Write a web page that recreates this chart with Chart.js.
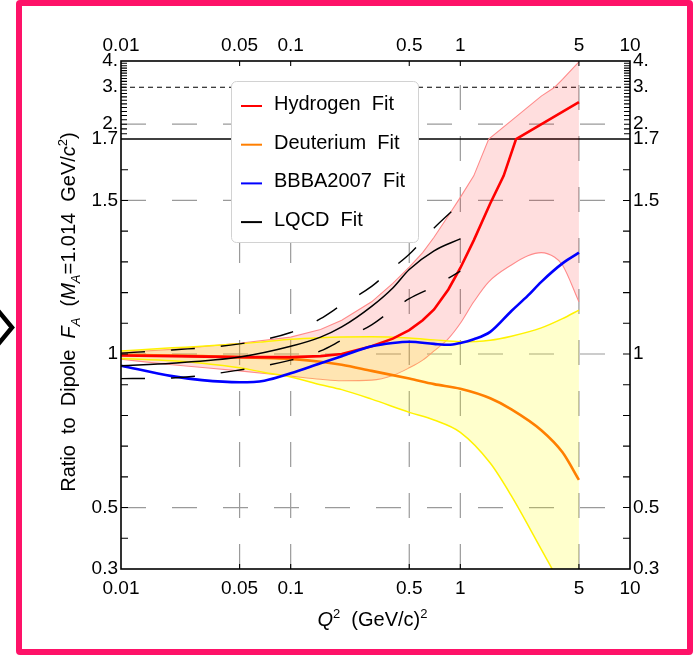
<!DOCTYPE html>
<html>
<head>
<meta charset="utf-8">
<title>Axial form factor ratio to dipole</title>
<script src="https://cdn.jsdelivr.net/npm/chart.js@4.4.1/dist/chart.umd.min.js"></script>
<style>
  html, body { margin: 0; padding: 0; background: #fff; }
  #page { position: relative; width: 693px; height: 656px; overflow: hidden; }
  #frame { position: absolute; left: 16px; top: 0; width: 677px; height: 655px; box-sizing: border-box;
           border: 6.5px solid #fe1268; border-radius: 4px; }
  #chev { position: absolute; left: 0; top: 300px; }
  #c { position: absolute; left: 0; top: 0; }
</style>
</head>
<body>
<div id="page">
  <div id="frame"></div>
  <svg id="chev" width="22" height="56" viewBox="0 0 22 56">
    <polyline points="-3,9.5 12,27.5 -3,45.5" fill="none" stroke="#000" stroke-width="4.5"/>
  </svg>
  <canvas id="c" width="693" height="656"></canvas>
</div>
<script>
// ---------- axis ticks ----------
const xTickValues = [0.01, 0.05, 0.1, 0.5, 1, 5, 10];
const xTickLabels = ['0.01', '0.05', '0.1', '0.5', '1', '5', '10'];
const yTickValues = [0.3, 0.5, 1, 1.5, 1.7, 2, 3, 4];
const yTickLabels = ['0.3', '0.5', '1', '1.5', '1.7', '2.', '3.', '4.'];
const xGridValues = [0.05, 0.1, 0.5, 1, 5];
const yGridValues = [0.5, 1, 1.5, 2];
const yBreakValue = 1.7;   // the y axis is linear below this value and logarithmic above
const yDashedRef = 3;

// ---------- Hydrogen fit and its error band ----------
const hydrogenQ2  = [0.01, 0.02, 0.05, 0.1, 0.15, 0.2, 0.3, 0.4, 0.5, 0.6, 0.7, 0.85, 1, 1.2, 1.5, 1.8, 2.13, 5];
const hydrogenFit = [0.995, 0.993, 0.99, 0.99, 0.993, 1.0, 1.025, 1.05, 1.078, 1.11, 1.145, 1.21, 1.28, 1.37, 1.49, 1.58, 1.70, 2.55];

const hydrogenBandQ2 = [0.01, 0.02, 0.05, 0.1, 0.15, 0.2, 0.3, 0.4, 0.5, 0.6, 0.7, 0.85, 1, 1.2, 1.47, 2, 2.5, 3, 3.6, 4, 5];
const hydrogenUpper  = [1.005, 1.015, 1.035, 1.055, 1.08, 1.11, 1.17, 1.23, 1.283, 1.33, 1.38, 1.45, 1.51, 1.58, 1.70, 2.08, 2.41, 2.72, 3.0, 3.27, 3.96];
const hydrogenLower  = [0.983, 0.965, 0.945, 0.928, 0.918, 0.913, 0.915, 0.93, 0.955, 0.98, 1.01, 1.05, 1.1, 1.17, 1.235, 1.29, 1.32, 1.33, 1.315, 1.29, 1.17];

// ---------- Deuterium fit and its error band ----------
const deuteriumQ2    = [0.01, 0.02, 0.03, 0.05, 0.07, 0.1, 0.15, 0.2, 0.3, 0.5, 0.7, 1, 1.5, 2, 3, 4, 5];
const deuteriumFit   = [0.997, 0.995, 0.993, 0.99, 0.987, 0.984, 0.975, 0.965, 0.945, 0.92, 0.902, 0.887, 0.856, 0.82, 0.752, 0.68, 0.59];
const deuteriumUpper = [1.01, 1.02, 1.025, 1.033, 1.04, 1.048, 1.053, 1.055, 1.056, 1.052, 1.046, 1.04, 1.045, 1.058, 1.085, 1.115, 1.143];
const deuteriumLower = [0.985, 0.978, 0.97, 0.955, 0.94, 0.925, 0.9, 0.884, 0.853, 0.81, 0.785, 0.745, 0.645, 0.538, 0.364, 0.24, 0.15];

// ---------- BBBA2007 parametrisation ----------
const bbbaQ2  = [0.01, 0.02, 0.03, 0.05, 0.07, 0.1, 0.15, 0.2, 0.3, 0.4, 0.5, 0.7, 0.85, 1, 1.2, 1.5, 2, 2.5, 3, 4, 5];
const bbbaFit = [0.962, 0.928, 0.915, 0.908, 0.913, 0.937, 0.97, 0.993, 1.025, 1.036, 1.04, 1.033, 1.03, 1.036, 1.048, 1.072, 1.14, 1.19, 1.235, 1.295, 1.33];

// ---------- lattice QCD fit with its uncertainty ----------
const lqcdQ2    = [0.01, 0.02, 0.05, 0.1, 0.15, 0.2, 0.3, 0.4, 0.5, 0.7, 1];
const lqcdFit   = [0.962, 0.97, 0.99, 1.025, 1.055, 1.088, 1.155, 1.215, 1.275, 1.336, 1.375];
const lqcdUpper = [1.003, 1.013, 1.033, 1.07, 1.115, 1.16, 1.22, 1.28, 1.325, 1.41, 1.49];
const lqcdLower = [0.92, 0.922, 0.948, 0.98, 1.01, 1.045, 1.095, 1.145, 1.18, 1.22, 1.27];

const legendOrder = ['Hydrogen Fit', 'Deuterium Fit', 'BBBA2007 Fit', 'LQCD Fit'];

const FONT = '"Liberation Sans", Arial, Helvetica, sans-serif';

// ---------- y scale: linear up to the break, logarithmic above ----------
const LIN_PX = 307.1;   // relative length of one unit in the linear part
const LOG_PX = 209.9;   // relative length of one decade in the log part
function warpY(v) {
  return v <= yBreakValue ? v * LIN_PX
                          : yBreakValue * LIN_PX + LOG_PX * Math.log10(v / yBreakValue);
}
function unwarpY(w) {
  const b = yBreakValue * LIN_PX;
  return w <= b ? w / LIN_PX : yBreakValue * Math.pow(10, (w - b) / LOG_PX);
}
class BrokenLinLogScale extends Chart.LinearScale {
  static id = 'brokenLinLog';
  static defaults = Chart.LinearScale.defaults;
  getPixelForValue(value) {
    const a = warpY(this.min), b = warpY(this.max);
    return this.getPixelForDecimal((warpY(value) - a) / (b - a));
  }
  getValueForPixel(pixel) {
    const a = warpY(this.min), b = warpY(this.max);
    return unwarpY(a + this.getDecimalForPixel(pixel) * (b - a));
  }
}
Chart.register(BrokenLinLogScale);

const pts = (xs, ys) => xs.map((x, i) => ({ x, y: ys[i] }));
const findLabel = (vals, labels, v) => {
  const i = vals.findIndex(t => Math.abs(t - v) < 1e-9 * Math.max(1, t));
  return i >= 0 ? labels[i] : '';
};

// ---------- rich text (italics, sub/superscripts, wide word gaps) ----------
function drawRich(ctx, parts, x, baseY, size, align) {
  const gap = 5.5;
  const runs = [];
  let total = 0;
  parts.forEach(p => {
    const small = p.sub || p.sup;
    const font = `${p.it ? 'italic ' : ''}${small ? Math.round(size * 0.65) : size}px ${FONT}`;
    ctx.font = font;
    p.t.split(/( )/).forEach(tok => {
      if (!tok) return;
      const w = tok === ' ' ? ctx.measureText(' ').width + gap : ctx.measureText(tok).width;
      runs.push({ tok, font, w, dy: p.sub ? size * 0.27 : p.sup ? -size * 0.42 : 0 });
      total += w;
    });
  });
  let xx = align === 'left' ? x : x - total / 2;
  ctx.textAlign = 'left';
  ctx.textBaseline = 'alphabetic';
  runs.forEach(r => {
    if (r.tok !== ' ') { ctx.font = r.font; ctx.fillText(r.tok, xx, baseY + r.dy); }
    xx += r.w;
  });
}

// ---------- decorations: grid, break lines, frame, inward ticks, legend, titles ----------
const decor = {
  id: 'decor',
  beforeDatasetsDraw(chart) {
    const { ctx, chartArea: a, scales } = chart;
    const x = scales.x, y = scales.y;
    ctx.save();
    ctx.beginPath();
    ctx.rect(a.left, a.top, a.right - a.left, a.bottom - a.top);
    ctx.clip();
    ctx.strokeStyle = '#9a9a9a';
    ctx.lineWidth = 1.2;
    ctx.setLineDash([25, 26]);
    xGridValues.forEach(v => {
      const px = x.getPixelForValue(v);
      ctx.beginPath(); ctx.moveTo(px, a.bottom); ctx.lineTo(px, a.top); ctx.stroke();
    });
    yGridValues.forEach(v => {
      const py = y.getPixelForValue(v);
      ctx.beginPath(); ctx.moveTo(a.left, py); ctx.lineTo(a.right, py); ctx.stroke();
    });
    ctx.strokeStyle = '#000';
    ctx.setLineDash([]);
    ctx.lineWidth = 1.6;
    let py = y.getPixelForValue(yBreakValue);
    ctx.beginPath(); ctx.moveTo(a.left, py); ctx.lineTo(a.right, py); ctx.stroke();
    ctx.setLineDash([5, 4]);
    ctx.lineWidth = 1.2;
    py = y.getPixelForValue(yDashedRef);
    ctx.beginPath(); ctx.moveTo(a.left, py); ctx.lineTo(a.right, py); ctx.stroke();
    ctx.restore();
  },
  afterDatasetsDraw(chart) {
    const { ctx, chartArea: a, scales } = chart;
    const x = scales.x, y = scales.y;
    ctx.save();
    ctx.strokeStyle = '#000';
    ctx.setLineDash([]);

    // inward tick marks
    ctx.lineWidth = 1.1;
    const yMarks = [];
    for (let k = 4; k <= 16; k++) yMarks.push({ v: k / 10, len: 7 });
    for (let k = 18; k <= 39; k++) yMarks.push({ v: k / 10, len: 6 });
    ctx.beginPath();
    yMarks.forEach(m => {
      const py = y.getPixelForValue(m.v);
      ctx.moveTo(a.left, py); ctx.lineTo(a.left + m.len, py);
      ctx.moveTo(a.right, py); ctx.lineTo(a.right - m.len, py);
    });
    xGridValues.forEach(v => {
      const px = x.getPixelForValue(v);
      ctx.moveTo(px, a.bottom); ctx.lineTo(px, a.bottom - 5);
      ctx.moveTo(px, a.top); ctx.lineTo(px, a.top + 5);
    });
    ctx.stroke();

    // plot frame
    ctx.lineWidth = 1.6;
    ctx.strokeRect(a.left, a.top, a.right - a.left, a.bottom - a.top);

    // legend
    const lx = 231.5, ly = 81.5, lw = 187, lh = 161;
    ctx.beginPath();
    ctx.roundRect(lx, ly, lw, lh, 5);
    ctx.fillStyle = '#fff';
    ctx.fill();
    ctx.strokeStyle = '#d2d2d2';
    ctx.lineWidth = 1;
    ctx.stroke();
    const entries = legendOrder.map(name => chart.data.datasets.find(d => d.label === name));
    entries.forEach((d, i) => {
      const base = 110 + i * 38.7;
      ctx.strokeStyle = d.borderColor;
      ctx.lineWidth = 2;
      ctx.beginPath(); ctx.moveTo(241, base - 4); ctx.lineTo(262, base - 4); ctx.stroke();
      ctx.fillStyle = '#000';
      drawRich(ctx, [{ t: d.label }], 274, base, 20, 'left');
    });

    // axis titles
    ctx.fillStyle = '#000';
    drawRich(ctx, [{ t: 'Q', it: 1 }, { t: '2', sup: 1 }, { t: ' (GeV/c)' }, { t: '2', sup: 1 }],
             (a.left + a.right) / 2 - 3, 626, 20, 'center');
    ctx.save();
    ctx.translate(75, (a.top + a.bottom) / 2 - 3);
    ctx.rotate(-Math.PI / 2);
    drawRich(ctx, [
      { t: 'Ratio to Dipole ' }, { t: 'F', it: 1 }, { t: 'A', it: 1, sub: 1 },
      { t: ' (' }, { t: 'M', it: 1 }, { t: 'A', it: 1, sub: 1 },
      { t: '=1.014 GeV/' }, { t: 'c', it: 1 }, { t: '2', sup: 1 }, { t: ')' }
    ], 0, 0, 20, 'center');
    ctx.restore();
    ctx.restore();
  }
};

const lineBase = { pointRadius: 0, fill: false, clip: 0 };

const datasets = [
  { ...lineBase, label: 'LQCD Fit', data: pts(lqcdQ2, lqcdFit), borderColor: '#000', borderWidth: 1.5,
    cubicInterpolationMode: 'monotone', order: 1 },
  { ...lineBase, label: 'LQCD upper', data: pts(lqcdQ2, lqcdUpper), borderColor: '#000', borderWidth: 1.4,
    borderDash: [24, 26], cubicInterpolationMode: 'monotone', order: 2 },
  { ...lineBase, label: 'LQCD lower', data: pts(lqcdQ2, lqcdLower), borderColor: '#000', borderWidth: 1.4,
    borderDash: [24, 26], cubicInterpolationMode: 'monotone', order: 2 },
  { ...lineBase, label: 'BBBA2007 Fit', data: pts(bbbaQ2, bbbaFit), borderColor: '#0000ff', borderWidth: 2.6,
    cubicInterpolationMode: 'monotone', order: 3 },
  { ...lineBase, label: 'Hydrogen Fit', data: pts(hydrogenQ2, hydrogenFit), borderColor: '#ff0000', borderWidth: 2.6,
    tension: 0, order: 4 },
  { ...lineBase, label: 'Deuterium Fit', data: pts(deuteriumQ2, deuteriumFit), borderColor: '#ff7f00', borderWidth: 2.6,
    cubicInterpolationMode: 'monotone', order: 5 },
  { ...lineBase, label: 'Deuterium upper', data: pts(deuteriumQ2, deuteriumUpper), borderColor: '#fff200', borderWidth: 1.5,
    cubicInterpolationMode: 'monotone', order: 8 },
  { ...lineBase, label: 'Deuterium lower', data: pts(deuteriumQ2, deuteriumLower), borderColor: '#fff200', borderWidth: 1.5,
    cubicInterpolationMode: 'monotone', order: 9, fill: '-1', backgroundColor: 'rgba(255,255,0,0.2)' },
  { ...lineBase, label: 'Hydrogen upper', data: pts(hydrogenBandQ2, hydrogenUpper), borderColor: '#ff8a8a', borderWidth: 1.1,
    tension: 0, order: 10 },
  { ...lineBase, label: 'Hydrogen lower', data: pts(hydrogenBandQ2, hydrogenLower), borderColor: '#ff8a8a', borderWidth: 1.1,
    cubicInterpolationMode: 'monotone', order: 11, fill: '-1', backgroundColor: 'rgba(255,0,0,0.13)' }
];

const tickFont = { family: FONT, size: 19 };
const logAxis = (position, height, pad) => ({
  type: 'logarithmic', position, min: 0.01, max: 10,
  afterBuildTicks: s => { s.ticks = xTickValues.map(v => ({ value: v })); },
  afterFit: s => { s.height = height; },
  ticks: { callback: v => findLabel(xTickValues, xTickLabels, v), autoSkip: false, maxRotation: 0, minRotation: 0,
           font: tickFont, color: '#000', padding: pad },
  grid: { display: false, drawTicks: false },
  border: { display: false }
});
const brokenAxis = (position, width) => ({
  type: 'brokenLinLog', position, min: 0.3, max: 4, bounds: 'data',
  afterBuildTicks: s => { s.ticks = yTickValues.map(v => ({ value: v })); },
  afterFit: s => { s.width = width; },
  ticks: { callback: v => findLabel(yTickValues, yTickLabels, v), autoSkip: false,
           font: tickFont, color: '#000', padding: 3 },
  grid: { display: false, drawTicks: false },
  border: { display: false }
});

new Chart(document.getElementById('c'), {
  type: 'line',
  data: { datasets },
  options: {
    responsive: false,
    maintainAspectRatio: false,
    devicePixelRatio: 1,
    animation: false,
    events: [],
    parsing: true,
    layout: { padding: 0 },
    scales: {
      x: logAxis('bottom', 87, 8),
      xTop: logAxis('top', 61, 4),
      y: brokenAxis('left', 121),
      yRight: brokenAxis('right', 63)
    },
    plugins: { legend: { display: false }, tooltip: { enabled: false }, title: { display: false } }
  },
  plugins: [decor]
});
</script>
</body>
</html>
